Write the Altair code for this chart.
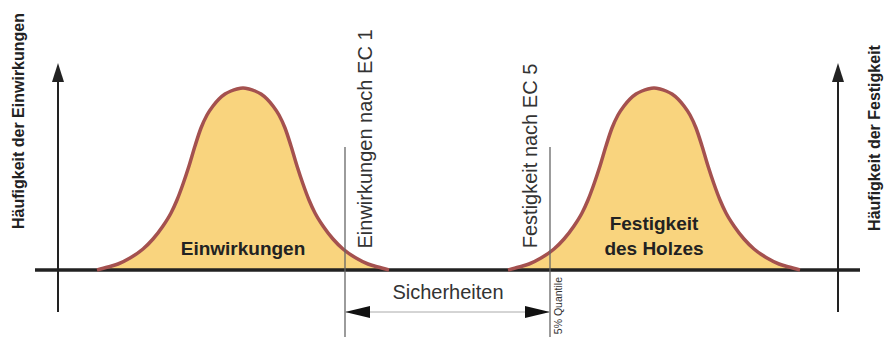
import altair as alt
import pandas as pd

# ---- values (x in page pixels, y = height above baseline) ----
curve_offsets = [-146, -135, -125, -113, -100, -90, -80, -72, -66, -60, -54, -48, -42, -36, -30, -24, -18, -12, -6, 0,
                 6, 12, 18, 24, 30, 36, 42, 48, 54, 60, 66, 72, 80, 90, 100, 113, 125, 135, 146]
curve_heights = [0, 3, 6, 12, 21, 31, 44, 57, 70, 86, 104, 124, 142, 155, 164, 171, 176, 179, 181, 182,
                 181, 179, 176, 171, 164, 155, 142, 124, 104, 86, 70, 57, 44, 31, 21, 12, 6, 3, 0]
curve_centers = {"Einwirkungen": 243, "Festigkeit": 654}

baseline_x = [35, 860]
axis_x = [58, 838]
axis_y = [-42, 188]
axis_tip_y = 197.5
guide_x = [345, 550]
guide_y = [-75, 123]
arrow_y = -42

FILL = "#F9D47E"
STROKE = "#A4514F"
INK = "#222222"

rows = []
for name, c in curve_centers.items():
    for o, h in zip(curve_offsets, curve_heights):
        rows.append({"curve": name, "x": c + o, "h": h})
curves = pd.DataFrame(rows)

xs = alt.Scale(domain=[8, 884], nice=False, zero=False)
ys = alt.Scale(domain=[-67, 262], nice=False, zero=False)

def X(f="x"):
    return alt.X(f"{f}:Q", scale=xs, axis=None)

def Y(f="y"):
    return alt.Y(f"{f}:Q", scale=ys, axis=None)

area = alt.Chart(curves).mark_area(color=FILL, interpolate="monotone").encode(
    x=X(), y=alt.Y("h:Q", scale=ys, axis=None), y2=alt.datum(0), detail="curve:N")

base = alt.Chart(pd.DataFrame({"x": [baseline_x[0]], "x2": [baseline_x[1]], "y": [0]})).mark_rule(
    color=INK, strokeWidth=3.5).encode(x=X(), x2="x2:Q", y=Y())

line = alt.Chart(curves).mark_line(color=STROKE, strokeWidth=3.5, interpolate="monotone").encode(
    x=X(), y=alt.Y("h:Q", scale=ys, axis=None), detail="curve:N")

axes = alt.Chart(pd.DataFrame({"x": axis_x, "y": [axis_y[0]] * 2, "y2": [axis_y[1]] * 2})).mark_rule(
    color=INK, strokeWidth=2).encode(x=X(), y=Y(), y2="y2:Q")

axis_heads = alt.Chart(pd.DataFrame({"x": axis_x, "y": [axis_tip_y] * 2})).mark_point(
    shape="M0,-1L0.63,1L-0.63,1Z", size=361, filled=True, opacity=1, color=INK, strokeWidth=0
).encode(x=X(), y=Y())

guides = alt.Chart(pd.DataFrame({"x": guide_x, "y": [guide_y[0]] * 2, "y2": [guide_y[1]] * 2})).mark_rule(
    color="#666666", strokeWidth=1.3).encode(x=X(), y=Y(), y2="y2:Q")

arrow_line = alt.Chart(pd.DataFrame({"x": [guide_x[0]], "x2": [guide_x[1]], "y": [arrow_y]})).mark_rule(
    color="#aaaaaa", strokeWidth=1).encode(x=X(), x2="x2:Q", y=Y())

head_l = alt.Chart(pd.DataFrame({"x": [guide_x[0] + 12.5], "y": [arrow_y]})).mark_point(
    shape="M-1,0L1,-0.48L1,0.48Z", size=625, filled=True, opacity=1, color="#111111", strokeWidth=0
).encode(x=X(), y=Y())
head_r = alt.Chart(pd.DataFrame({"x": [guide_x[1] - 12.5], "y": [arrow_y]})).mark_point(
    shape="M1,0L-1,-0.48L-1,0.48Z", size=625, filled=True, opacity=1, color="#111111", strokeWidth=0
).encode(x=X(), y=Y())

def label(df, **kw):
    return alt.Chart(pd.DataFrame(df)).mark_text(font="Liberation Sans", **kw).encode(
        x=X(), y=Y(), text="t:N")

side_titles = label({"x": [19, 875], "y": [149, 132],
                     "t": ["Häufigkeit der Einwirkungen", "Häufigkeit der Festigkeit"]},
                    angle=270, fontSize=16, fontWeight="bold", color=INK, align="center", baseline="middle")

limit_titles = label({"x": [366, 531], "y": [131, 114],
                      "t": ["Einwirkungen nach EC 1", "Festigkeit nach EC 5"]},
                     angle=270, fontSize=20, color="#333333", align="center", baseline="middle")

curve_titles = label({"x": [243, 654, 654], "y": [15, 40, 15],
                      "t": ["Einwirkungen", "Festigkeit", "des Holzes"]},
                     fontSize=19, fontWeight="bold", color=INK, align="center", baseline="alphabetic")

safety = label({"x": [448], "y": [-23], "t": ["Sicherheiten"]},
               fontSize=20, color="#333333", align="center", baseline="middle")

quantile = label({"x": [559], "y": [-7], "t": ["5% Quantile"]},
                 angle=270, fontSize=10.5, color="#333333", align="right", baseline="middle")

chart = alt.layer(
    area, base, line, guides, axes, axis_heads, arrow_line, head_l, head_r,
    side_titles, limit_titles, curve_titles, safety, quantile
).properties(width=876, height=329, padding=0, autosize="none", background="white"
).configure_view(stroke=None)

chart.save("out.html", embed_options={"renderer": "svg", "actions": False})
